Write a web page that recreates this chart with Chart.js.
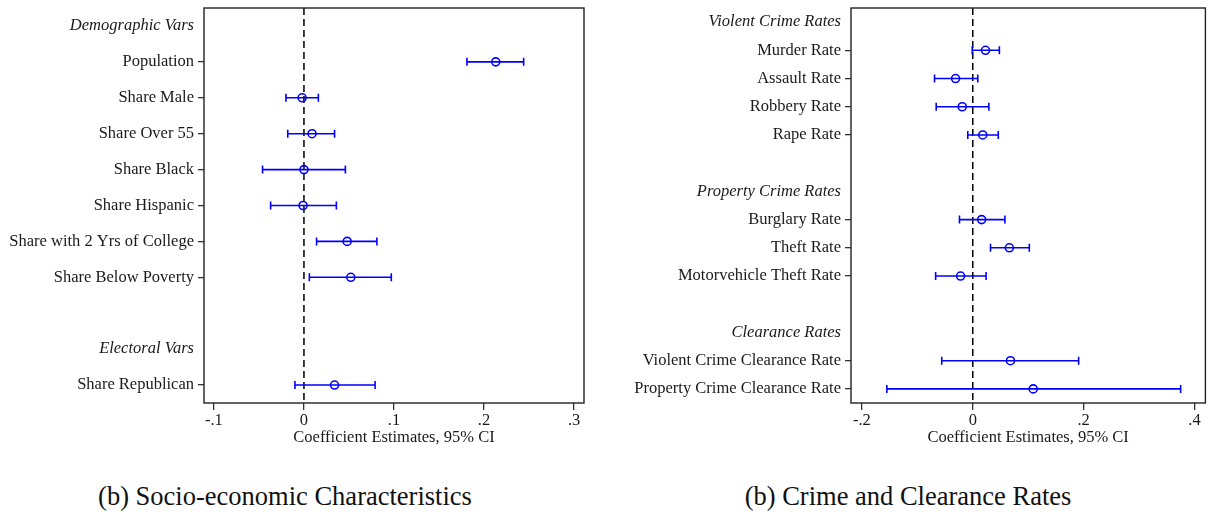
<!DOCTYPE html>
<html>
<head>
<meta charset="utf-8">
<script src="https://cdn.jsdelivr.net/npm/chart.js@4.4.1/dist/chart.umd.min.js"></script>
<style>
  body { margin: 0; background: #fff; width: 1211px; height: 514px; position: relative; overflow: hidden; }
  canvas { position: absolute; top: 0; }
  #socio { left: 0; }
  #crime { left: 605px; }
  .caption { position: absolute; top: 481px; line-height: 30px; font-family: "Liberation Serif", serif; font-size: 26.5px; color: #111; text-align: center; white-space: nowrap; }
</style>
</head>
<body>
<canvas id="socio" width="605" height="448"></canvas>
<canvas id="crime" width="606" height="448"></canvas>
<div class="caption" style="left:0;width:570px">(b) Socio-economic Characteristics</div>
<div class="caption" style="left:605px;width:606px">(b) Crime and Clearance Rates</div>

<script>
// left panel: socio-economic characteristics
const socioRows = ["Demographic Vars", "Population", "Share Male", "Share Over 55", "Share Black",
  "Share Hispanic", "Share with 2 Yrs of College", "Share Below Poverty", " ", "Electoral Vars", "Share Republican"]
const socioHeaders = ["Demographic Vars", "Electoral Vars"]
const socioVars = ["Population", "Share Male", "Share Over 55", "Share Black", "Share Hispanic",
  "Share with 2 Yrs of College", "Share Below Poverty", "Share Republican"]
const socioEst = [0.213, -0.002, 0.009, 0.000, -0.001, 0.048, 0.052, 0.034]
const socioLo = [0.181, -0.020, -0.018, -0.046, -0.037, 0.014, 0.006, -0.010]
const socioHi = [0.244, 0.016, 0.034, 0.046, 0.036, 0.081, 0.097, 0.079]
const socioTicks = [-0.1, 0, 0.1, 0.2, 0.3]
const socioTickLabels = ["-.1", "0", ".1", ".2", ".3"]

// right panel: crime and clearance rates
const crimeRows = ["Violent Crime Rates", "Murder Rate", "Assault Rate", "Robbery Rate", "Rape Rate", " ",
  "Property Crime Rates", "Burglary Rate", "Theft Rate", "Motorvehicle Theft Rate", "  ",
  "Clearance Rates", "Violent Crime Clearance Rate", "Property Crime Clearance Rate"]
const crimeHeaders = ["Violent Crime Rates", "Property Crime Rates", "Clearance Rates"]
const crimeVars = ["Murder Rate", "Assault Rate", "Robbery Rate", "Rape Rate", "Burglary Rate", "Theft Rate",
  "Motorvehicle Theft Rate", "Violent Crime Clearance Rate", "Property Crime Clearance Rate"]
const crimeEst = [0.023, -0.031, -0.019, 0.018, 0.016, 0.066, -0.022, 0.068, 0.109]
const crimeLo = [-0.001, -0.069, -0.066, -0.009, -0.024, 0.032, -0.067, -0.056, -0.155]
const crimeHi = [0.048, 0.009, 0.029, 0.046, 0.058, 0.102, 0.024, 0.191, 0.375]
const crimeTicks = [-0.2, 0, 0.2, 0.4]
const crimeTickLabels = ["-.2", "0", ".2", ".4"]

const FONT = "'Liberation Serif', 'Times New Roman', serif"
const FONT_SIZE = 16.5
const BLUE = "#0000ff"
const INK = "#1a1a1a"

// CI bars, zero line and the frame, all placed through the chart's scales
const ciPlugin = {
  id: "ci",
  beforeDatasetsDraw(chart, args, opts) {
    const { ctx, chartArea: a, scales: { x, y } } = chart
    ctx.save()
    ctx.strokeStyle = "#000"
    ctx.lineWidth = 1.5
    ctx.setLineDash([7, 4])
    const zx = x.getPixelForValue(0)
    ctx.beginPath()
    ctx.moveTo(zx, a.top)
    ctx.lineTo(zx, a.bottom)
    ctx.stroke()
    ctx.setLineDash([])

    ctx.strokeStyle = BLUE
    ctx.lineWidth = 1.6
    opts.vars.forEach((name, i) => {
      const py = y.getPixelForValue(opts.rows.indexOf(name))
      const x0 = x.getPixelForValue(opts.lo[i])
      const x1 = x.getPixelForValue(opts.hi[i])
      ctx.beginPath()
      ctx.moveTo(x0, py)
      ctx.lineTo(x1, py)
      ctx.moveTo(x0, py - 4)
      ctx.lineTo(x0, py + 4)
      ctx.moveTo(x1, py - 4)
      ctx.lineTo(x1, py + 4)
      ctx.stroke()
    })
    ctx.restore()
  },
  afterDraw(chart) {
    const { ctx, chartArea: a } = chart
    ctx.save()
    ctx.strokeStyle = "#222"
    ctx.lineWidth = 1.4
    ctx.strokeRect(a.left, a.top, a.right - a.left, a.bottom - a.top)
    ctx.restore()
  }
}

function makePanel(canvasId, cfg) {
  const isData = label => cfg.vars.includes(label)
  return new Chart(document.getElementById(canvasId), {
    type: "scatter",
    data: {
      datasets: [{
        data: cfg.vars.map((name, i) => ({ x: cfg.est[i], y: name })),
        pointStyle: "circle",
        pointRadius: 4,
        pointHoverRadius: 4,
        borderColor: BLUE,
        backgroundColor: "rgba(0,0,0,0)",
        pointBorderWidth: 1.6
      }]
    },
    options: {
      responsive: false,
      devicePixelRatio: 1,
      animation: false,
      events: [],
      layout: { padding: { top: 8, right: cfg.padRight, left: 0, bottom: 0 } },
      plugins: {
        legend: { display: false },
        tooltip: { enabled: false },
        ci: { rows: cfg.rows, vars: cfg.vars, lo: cfg.lo, hi: cfg.hi }
      },
      scales: {
        x: {
          type: "linear",
          min: cfg.min,
          max: cfg.max,
          afterBuildTicks: axis => { axis.ticks = cfg.ticks.map(v => ({ value: v })) },
          afterFit: axis => {
            axis.height = 45
            axis.paddingLeft = 0
            axis.paddingRight = 0
          },
          border: { display: false },
          grid: { drawOnChartArea: false, drawTicks: true, tickLength: 7, tickColor: "#333", lineWidth: 1.3 },
          ticks: {
            autoSkip: false,
            maxRotation: 0,
            padding: 1,
            color: INK,
            font: { family: FONT, size: FONT_SIZE },
            callback: (value, i) => cfg.tickLabels[i]
          },
          title: {
            display: true,
            text: "Coefficient Estimates, 95% CI",
            color: INK,
            padding: { top: 0, bottom: 0 },
            font: { family: FONT, size: FONT_SIZE }
          }
        },
        y: {
          type: "category",
          labels: cfg.rows,
          offset: true,
          afterFit: axis => {
            axis.width = cfg.axisWidth
            axis.paddingTop = 0
            axis.paddingBottom = 0
          },
          border: { display: false },
          grid: {
            drawOnChartArea: false,
            drawTicks: true,
            tickLength: 6,
            lineWidth: 1.3,
            offset: false,
            tickColor: c => isData(cfg.rows[c.index]) ? "#333" : "rgba(0,0,0,0)"
          },
          ticks: {
            autoSkip: false,
            padding: 4,
            color: INK,
            font: c => ({
              family: FONT,
              size: FONT_SIZE,
              style: cfg.headers.includes(cfg.rows[c.index]) ? "italic" : "normal"
            })
          }
        }
      }
    },
    plugins: [ciPlugin]
  })
}

makePanel("socio", {
  rows: socioRows, headers: socioHeaders, vars: socioVars,
  est: socioEst, lo: socioLo, hi: socioHi,
  ticks: socioTicks, tickLabels: socioTickLabels,
  min: -0.111, max: 0.311, axisWidth: 204, padRight: 21
})

makePanel("crime", {
  rows: crimeRows, headers: crimeHeaders, vars: crimeVars,
  est: crimeEst, lo: crimeLo, hi: crimeHi,
  ticks: crimeTicks, tickLabels: crimeTickLabels,
  min: -0.2197, max: 0.4197, axisWidth: 246, padRight: 3
})
</script>
</body>
</html>
